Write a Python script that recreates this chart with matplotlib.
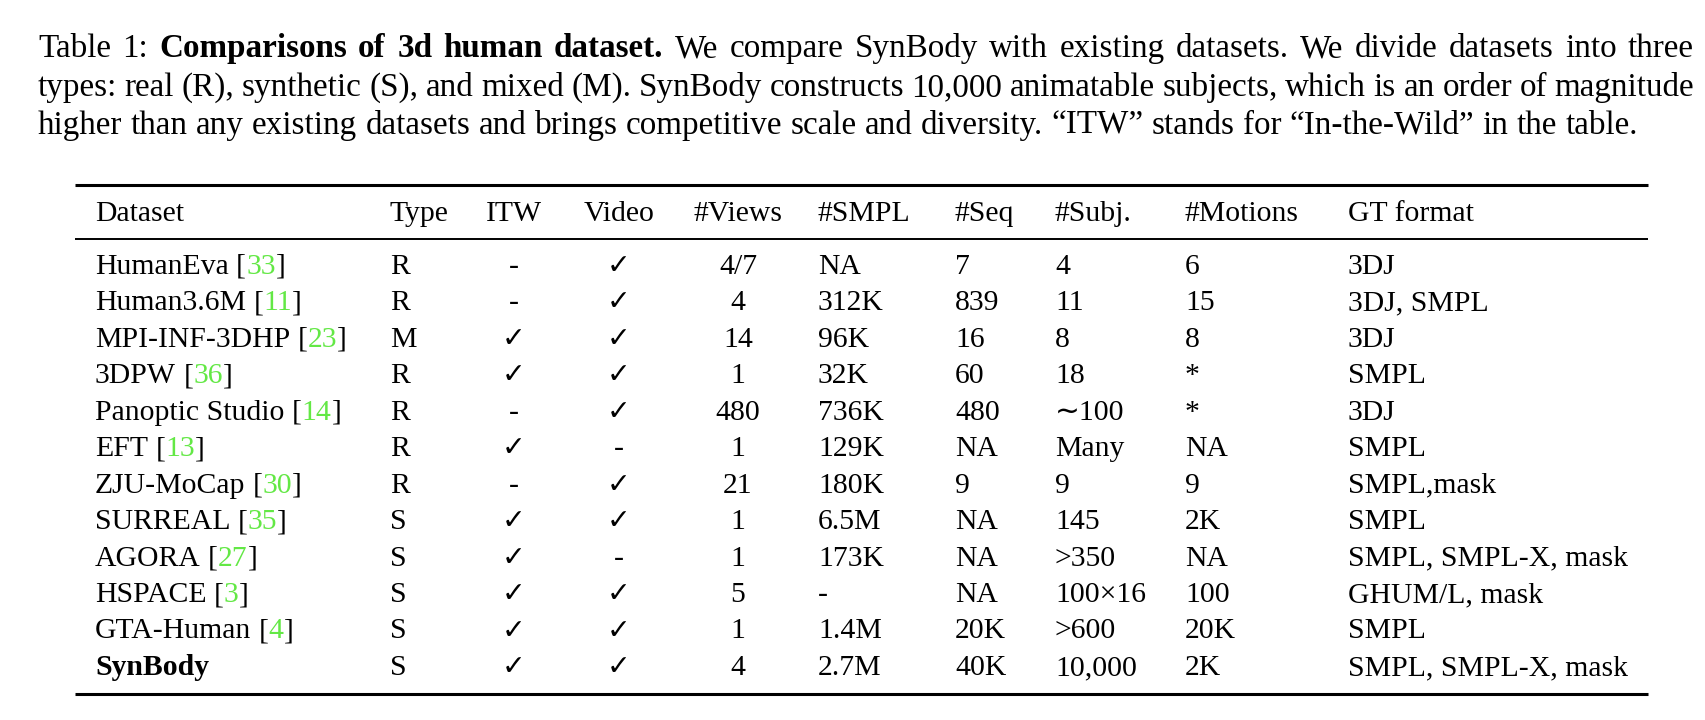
import matplotlib
matplotlib.use('Agg')
import matplotlib.pyplot as plt

# caption text, one entry per printed line: (text, weight) runs
caption_lines = [
    [('Table 1:', 'normal'), ('Comparisons of 3d human dataset.', 'bold'),
     ('We compare SynBody with existing datasets. We divide datasets into three', 'normal')],
    [('types: real (R), synthetic (S), and mixed (M). SynBody constructs 10,000 animatable '
      'subjects, which is an order of magnitude', 'normal')],
    [('higher than any existing datasets and brings competitive scale and diversity. '
      '\u201cITW\u201d stands for \u201cIn-the-Wild\u201d in the table.', 'normal')],
]

headers = ['Dataset', 'Type', 'ITW', 'Video', '#Views', '#SMPL', '#Seq', '#Subj.',
           '#Motions', 'GT format']

datasets = ['HumanEva', 'Human3.6M', 'MPI-INF-3DHP', '3DPW', 'Panoptic Studio', 'EFT',
            'ZJU-MoCap', 'SURREAL', 'AGORA', 'HSPACE', 'GTA-Human', 'SynBody']
cites = ['33', '11', '23', '36', '14', '13', '30', '35', '27', '3', '4', None]
types = ['R', 'R', 'M', 'R', 'R', 'R', 'R', 'S', 'S', 'S', 'S', 'S']
itw = [0, 0, 1, 1, 0, 1, 0, 1, 1, 1, 1, 1]
video = [1, 1, 1, 1, 1, 0, 1, 1, 0, 1, 1, 1]
views = ['4/7', '4', '14', '1', '480', '1', '21', '1', '1', '5', '1', '4']
smpl = ['NA', '312K', '96K', '32K', '736K', '129K', '180K', '6.5M', '173K', '-', '1.4M', '2.7M']
seq = ['7', '839', '16', '60', '480', 'NA', '9', 'NA', 'NA', 'NA', '20K', '40K']
subj = ['4', '11', '8', '18', '\u223c100', 'Many', '9', '145', '>350', '100\u00d716', '>600',
        '10,000']
motions = ['6', '15', '8', '*', '*', 'NA', '9', '2K', 'NA', '100', '20K', '2K']
gt = ['3DJ', '3DJ, SMPL', '3DJ', 'SMPL', '3DJ', 'SMPL', 'SMPL,mask', 'SMPL',
      'SMPL, SMPL-X, mask', 'GHUM/L, mask', 'SMPL', 'SMPL, SMPL-X, mask']

W, H = 1706, 720
GREEN = '#63e845'

plt.rcParams['font.family'] = ['Liberation Serif', 'DejaVu Sans']

fig = plt.figure(figsize=(W / 100, H / 100), dpi=100)
ax = fig.add_axes([0, 0, 1, 1])
ax.set_xlim(0, W)
ax.set_ylim(H, 0)
ax.axis('off')
r = fig.canvas.get_renderer()


def width(s, size, weight='normal'):
    t = ax.text(0, 0, s, fontsize=size, fontweight=weight)
    w = t.get_window_extent(renderer=r).width
    t.remove()
    return w


# font sizes picked so that known text spans match the page
CAP_SIZE = 20 * 1599 / width(caption_lines[2][0][0], 20)
TAB_SIZE = 20 * 280 / width('SMPL, SMPL-X, mask', 20)

# caption, justified like the LaTeX source except for the last line
cap_x0, cap_x1 = 38, 1694
cap_y = [57, 96, 134]
space = width('a a', CAP_SIZE) - width('aa', CAP_SIZE)
for i, line in enumerate(caption_lines):
    words = [(w, wt) for txt, wt in line for w in txt.split()]
    ws = [width(w, CAP_SIZE, wt) for w, wt in words]
    if i < len(caption_lines) - 1:
        gap = (cap_x1 - cap_x0 - sum(ws)) / (len(words) - 1)
    else:
        gap = space
    x = cap_x0
    for (w, wt), wd in zip(words, ws):
        ax.text(x, cap_y[i], w, fontsize=CAP_SIZE, fontweight=wt, va='baseline')
        x += wd + gap

# table layout
col_x = [95, 390, 514, 619, 738, 818, 955, 1055, 1185, 1348]
col_ha = ['left', 'left', 'center', 'center', 'center', 'left', 'left', 'left', 'left', 'left']
rule_x0, rule_x1 = 75, 1648
head_y = 221
row_y0, row_dy = 274, 36.45

ax.plot([rule_x0, rule_x1], [185, 185], color='black', lw=2.2, solid_capstyle='butt')
ax.plot([rule_x0, rule_x1], [239, 239], color='black', lw=1.4, solid_capstyle='butt')
ax.plot([rule_x0, rule_x1], [694, 694], color='black', lw=2.2, solid_capstyle='butt')

for x, ha, h in zip(col_x, col_ha, headers):
    ax.text(x, head_y, h, fontsize=TAB_SIZE, ha=ha, va='baseline')

tab_space = width('a a', TAB_SIZE) - width('aa', TAB_SIZE)
mark = lambda v: '\u2713' if v else '-'
for i in range(len(datasets)):
    y = row_y0 + i * row_dy
    # dataset name with green citation number
    if cites[i] is None:
        ax.text(col_x[0], y, datasets[i], fontsize=TAB_SIZE, fontweight='bold', va='baseline')
    else:
        x = col_x[0]
        for part, c in [(datasets[i], 'black'), ('[', 'black'), (cites[i], GREEN), (']', 'black')]:
            if part == '[':
                x += tab_space
            ax.text(x, y, part, fontsize=TAB_SIZE, color=c, va='baseline')
            x += width(part, TAB_SIZE)
    cells = [types[i], mark(itw[i]), mark(video[i]), views[i], smpl[i], seq[i], subj[i],
             motions[i], gt[i]]
    for x, ha, c in zip(col_x[1:], col_ha[1:], cells):
        size = TAB_SIZE - 1 if c == '\u2713' else TAB_SIZE
        ax.text(x, y, c, fontsize=size, ha=ha, va='baseline')

fig.savefig('out.png', dpi=100, facecolor='white')
